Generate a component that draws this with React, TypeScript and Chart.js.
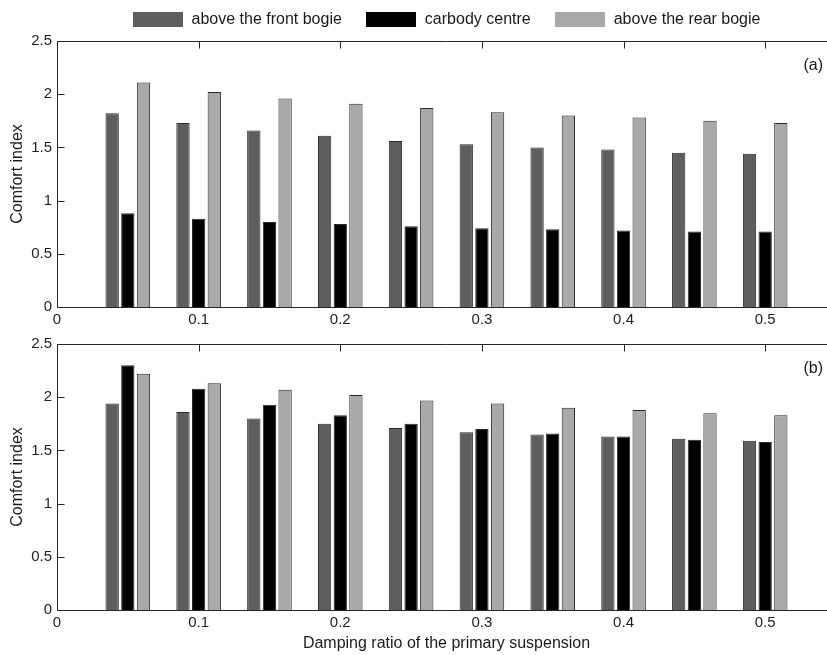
import React, { useEffect, useRef } from 'react';
import { Chart, registerables } from 'chart.js';

Chart.register(...registerables);

// ---- data ----
const dampingRatios = [0.05, 0.1, 0.15, 0.2, 0.25, 0.3, 0.35, 0.4, 0.45, 0.5];
const seriesLabels = ['above the front bogie', 'carbody centre', 'above the rear bogie'];
const seriesColors = ['#5e5e5e', '#000000', '#a9a9a9'];

const frontA = [1.82, 1.73, 1.66, 1.61, 1.56, 1.53, 1.5, 1.48, 1.45, 1.44];
const centreA = [0.88, 0.83, 0.8, 0.78, 0.76, 0.74, 0.73, 0.72, 0.71, 0.71];
const rearA = [2.11, 2.02, 1.96, 1.91, 1.87, 1.83, 1.8, 1.78, 1.75, 1.73];

const frontB = [1.94, 1.86, 1.8, 1.75, 1.71, 1.67, 1.65, 1.63, 1.61, 1.59];
const centreB = [2.3, 2.08, 1.93, 1.83, 1.75, 1.7, 1.66, 1.63, 1.6, 1.58];
const rearB = [2.22, 2.13, 2.07, 2.02, 1.97, 1.94, 1.9, 1.88, 1.85, 1.83];

const xTickValues = [0, 0.1, 0.2, 0.3, 0.4, 0.5];
const yTickValues = [0, 0.5, 1, 1.5, 2, 2.5];
const xMin = 0;
const xMax = 0.55;
const yMin = 0;
const yMax = 2.5;

const yTitle = 'Comfort index';
const xTitle = 'Damping ratio of the primary suspension';

const FONT = '"Liberation Sans", Arial, Helvetica, sans-serif';

const framePlugin = {
  id: 'frame',
  beforeDatasetsDraw(chart: any) {
    const { ctx, chartArea: a, scales } = chart;
    const x = scales.x;
    const y = scales.y;
    const W = chart.width;
    ctx.save();
    ctx.strokeStyle = '#262626';
    ctx.lineWidth = 1;
    const L = Math.round(a.left) + 0.5;
    const T = Math.round(a.top) + 0.5;
    const B = Math.round(a.bottom) + 0.5;
    ctx.beginPath();
    ctx.moveTo(W, T);
    ctx.lineTo(L, T);
    ctx.lineTo(L, B);
    ctx.lineTo(W, B);
    const tl = 7;
    xTickValues.forEach((v) => {
      if (v === xMin) return;
      const px = Math.round(x.getPixelForValue(v)) + 0.5;
      ctx.moveTo(px, T);
      ctx.lineTo(px, T + tl);
      ctx.moveTo(px, B);
      ctx.lineTo(px, B - tl);
    });
    yTickValues.forEach((v) => {
      const py = Math.round(y.getPixelForValue(v)) + 0.5;
      ctx.moveTo(L, py);
      ctx.lineTo(L + tl, py);
    });
    ctx.stroke();
    ctx.restore();
  },
};

const panelLabelPlugin = {
  id: 'panelLabel',
  afterDraw(chart: any, _args: any, opts: any) {
    if (!opts || !opts.text) return;
    const { ctx, chartArea: a } = chart;
    ctx.save();
    ctx.font = `16px ${FONT}`;
    ctx.fillStyle = '#1a1a1a';
    ctx.textAlign = 'right';
    ctx.textBaseline = 'middle';
    ctx.fillText(opts.text, a.right - 13, a.top + 25);
    ctx.restore();
  },
};

const customLegendPlugin = {
  id: 'customLegend',
  afterDraw(chart: any, _args: any, opts: any) {
    if (!opts || !opts.show) return;
    const { ctx, chartArea: a } = chart;
    ctx.save();
    ctx.font = `16px ${FONT}`;
    const boxW = 50;
    const boxH = 15;
    const gap = 9;
    const spacing = 24;
    const items = chart.data.datasets.map((d: any) => ({
      text: d.label as string,
      color: d.backgroundColor as string,
      w: ctx.measureText(d.label).width,
    }));
    const total =
      items.reduce((s: number, it: any) => s + boxW + gap + it.w, 0) + spacing * (items.length - 1);
    let x = (a.left + a.right) / 2 - total / 2;
    items.forEach((it: any) => {
      ctx.fillStyle = it.color;
      ctx.fillRect(Math.round(x), 12, boxW, boxH);
      ctx.fillStyle = '#1a1a1a';
      ctx.textAlign = 'left';
      ctx.textBaseline = 'middle';
      ctx.fillText(it.text, x + boxW + gap, 19.5);
      x += boxW + gap + it.w + spacing;
    });
    ctx.restore();
  },
};

function makeDatasets(front: number[], centre: number[], rear: number[]) {
  return [front, centre, rear].map((arr, k) => ({
    label: seriesLabels[k],
    data: dampingRatios.map((xv, i) => ({ x: xv, y: arr[i] })),
    backgroundColor: seriesColors[k],
    borderColor: '#2a2a2a',
    borderWidth: 1,
    categoryPercentage: 0.663,
    barPercentage: 0.85,
  }));
}

function makeConfig(
  front: number[],
  centre: number[],
  rear: number[],
  opts: { panel: string; legend: boolean; showXTitle: boolean; padTop: number; xHeight: number }
): any {
  return {
    type: 'bar',
    data: { datasets: makeDatasets(front, centre, rear) },
    plugins: [framePlugin, panelLabelPlugin, customLegendPlugin],
    options: {
      responsive: false,
      animation: false,
      events: [],
      layout: { padding: { top: opts.padTop, left: 0, right: 0, bottom: 0 } },
      plugins: {
        legend: { display: false },
        tooltip: { enabled: false },
        panelLabel: { text: opts.panel },
        customLegend: { show: opts.legend },
      },
      scales: {
        x: {
          type: 'linear',
          min: xMin,
          max: xMax,
          offset: false,
          grid: { display: false, drawTicks: false, offset: false },
          border: { display: false },
          afterBuildTicks: (s: any) => {
            s.ticks = xTickValues.map((v) => ({ value: v }));
          },
          afterFit: (s: any) => {
            s.height = opts.xHeight;
          },
          ticks: {
            padding: 4,
            maxRotation: 0,
            autoSkip: false,
            color: '#1f1f1f',
            font: { size: 15, family: FONT },
            callback: (v: any) => String(v),
          },
          title: {
            display: opts.showXTitle,
            text: xTitle,
            color: '#1a1a1a',
            font: { size: 16, family: FONT },
            padding: { top: 0, bottom: 2 },
          },
        },
        y: {
          type: 'linear',
          min: yMin,
          max: yMax,
          grid: { display: false, drawTicks: false },
          border: { display: false },
          afterBuildTicks: (s: any) => {
            s.ticks = yTickValues.map((v) => ({ value: v }));
          },
          afterFit: (s: any) => {
            s.width = 57;
          },
          ticks: {
            padding: 5,
            color: '#1f1f1f',
            font: { size: 15, family: FONT },
            callback: (v: any) => String(v),
          },
          title: {
            display: true,
            text: yTitle,
            color: '#1a1a1a',
            font: { size: 16, family: FONT },
            padding: { top: 8, bottom: 0 },
          },
        },
      },
    },
  };
}

export default function App() {
  const topRef = useRef<HTMLCanvasElement | null>(null);
  const botRef = useRef<HTMLCanvasElement | null>(null);

  useEffect(() => {
    if (!topRef.current || !botRef.current) return;
    const c1 = new Chart(
      topRef.current,
      makeConfig(frontA, centreA, rearA, { panel: '(a)', legend: true, showXTitle: false, padTop: 41, xHeight: 23 })
    );
    const c2 = new Chart(
      botRef.current,
      makeConfig(frontB, centreB, rearB, { panel: '(b)', legend: false, showXTitle: true, padTop: 14, xHeight: 45 })
    );
    return () => {
      c1.destroy();
      c2.destroy();
    };
  }, []);

  return (
    <div
      style={{
        position: 'fixed',
        left: 0,
        top: 0,
        width: 827,
        height: 655,
        overflow: 'hidden',
        background: '#ffffff',
      }}
    >
      <canvas
        ref={topRef}
        width={836}
        height={330}
        style={{ position: 'absolute', left: 0, top: 0, width: 836, height: 330 }}
      />
      <canvas
        ref={botRef}
        width={836}
        height={325}
        style={{ position: 'absolute', left: 0, top: 330, width: 836, height: 325 }}
      />
    </div>
  );
}
